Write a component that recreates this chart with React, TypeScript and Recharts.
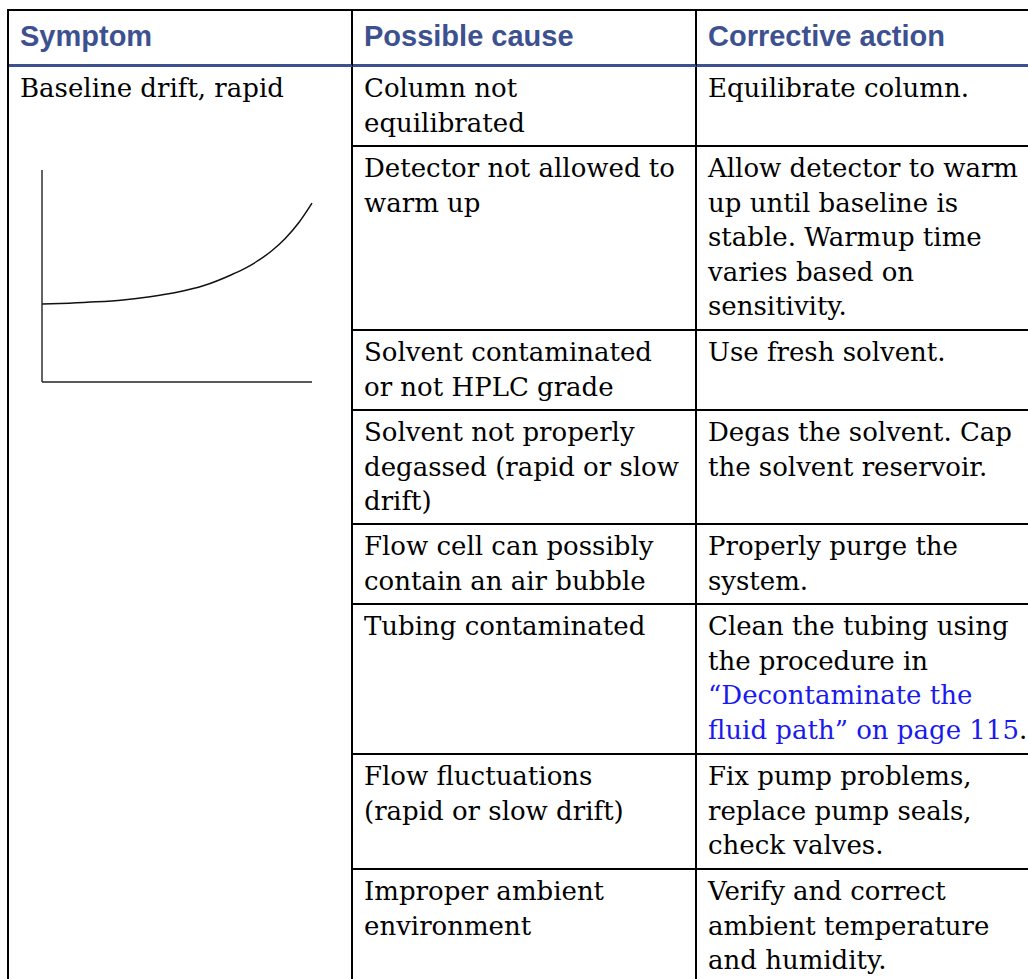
import { LineChart, Line, XAxis, YAxis } from "recharts";

// table text
const headers = ["Symptom", "Possible cause", "Corrective action"];
const symptom = "Baseline drift, rapid";

const causes: string[][] = [
  ["Column not", "equilibrated"],
  ["Detector not allowed to", "warm up"],
  ["Solvent contaminated", "or not HPLC grade"],
  ["Solvent not properly", "degassed (rapid or slow", "drift)"],
  ["Flow cell can possibly", "contain an air bubble"],
  ["Tubing contaminated"],
  ["Flow fluctuations", "(rapid or slow drift)"],
  ["Improper ambient", "environment"],
];

// [[...]] marks the cross-reference link text
const actions: string[][] = [
  ["Equilibrate column."],
  [
    "Allow detector to warm",
    "up until baseline is",
    "stable. Warmup time",
    "varies based on",
    "sensitivity.",
  ],
  ["Use fresh solvent."],
  ["Degas the solvent. Cap", "the solvent reservoir."],
  ["Properly purge the", "system."],
  [
    "Clean the tubing using",
    "the procedure in",
    "[[\u201cDecontaminate the]]",
    "[[fluid path\u201d on page 115]].",
  ],
  ["Fix pump problems,", "replace pump seals,", "check valves."],
  ["Verify and correct", "ambient temperature", "and humidity."],
];

// baseline drift sketch (arbitrary units)
const driftTime = [0, 10, 20, 30, 40, 50, 60, 70, 75, 80, 85, 90, 95, 100];
const driftSignal = [
  36.8, 37.2, 37.8, 38.7, 40.2, 42.3, 45.5, 50.5, 53.5, 57.2, 61.8, 67.6, 75.0, 84.4,
];

const rowHeights = [80, 184, 80, 114, 80, 150, 115, 115];

const HEADER_BLUE = "#3d5190";
const LINK_BLUE = "#1a1aee";

const bodyFont = "'DejaVu Serif', serif";
const headFont = "'Liberation Sans', Arial, sans-serif";

function renderLine(line: string) {
  const parts = line.split(/(\[\[.*?\]\])/);
  return parts.map((p, i) =>
    p.startsWith("[[") ? (
      <span key={i} style={{ color: LINK_BLUE }}>
        {p.slice(2, -2)}
      </span>
    ) : (
      <span key={i}>{p}</span>
    )
  );
}

function Lines({ lines }: { lines: string[] }) {
  return (
    <>
      {lines.map((l, i) => (
        <div key={i}>{renderLine(l)}</div>
      ))}
    </>
  );
}

function DriftChart() {
  const data = driftTime.map((t, i) => ({ t, v: driftSignal[i] }));
  return (
    <LineChart
      width={290}
      height={232}
      data={data}
      margin={{ top: 10, right: 10, bottom: 9, left: 9 }}
    >
      <XAxis
        type="number"
        dataKey="t"
        domain={[0, 100]}
        tick={false}
        tickLine={false}
        height={1}
        axisLine={{ stroke: "#222", strokeWidth: 1.4 }}
      />
      <YAxis
        type="number"
        domain={[0, 100]}
        tick={false}
        tickLine={false}
        width={1}
        axisLine={{ stroke: "#222", strokeWidth: 1.4 }}
      />
      <Line
        type="monotone"
        dataKey="v"
        stroke="#111"
        strokeWidth={1.5}
        dot={false}
        isAnimationActive={false}
      />
    </LineChart>
  );
}

export default function App() {
  const cell: React.CSSProperties = {
    boxSizing: "border-box",
    borderRight: "2px solid #000",
    borderBottom: "2px solid #000",
    padding: "4px 8px 0 11px",
    fontFamily: bodyFont,
    fontSize: 26,
    lineHeight: "34.5px",
    color: "#000",
    whiteSpace: "nowrap",
    overflow: "hidden",
  };
  const head: React.CSSProperties = {
    boxSizing: "border-box",
    borderRight: "2px solid #000",
    borderBottom: `3px solid ${HEADER_BLUE}`,
    padding: "8px 8px 0 11px",
    fontFamily: headFont,
    fontWeight: "bold",
    fontSize: 29,
    lineHeight: "34px",
    color: HEADER_BLUE,
    whiteSpace: "nowrap",
  };

  return (
    <div
      style={{
        position: "fixed",
        top: 0,
        left: 0,
        width: 1028,
        height: 979,
        overflow: "hidden",
        background: "#fff",
      }}
    >
      <div
        style={{
          position: "absolute",
          left: 7,
          top: 9,
          display: "grid",
          gridTemplateColumns: "344px 344px 342px",
          gridTemplateRows: [56, ...rowHeights].map((h) => `${h}px`).join(" "),
          borderLeft: "2px solid #000",
          borderTop: "2px solid #000",
        }}
      >
        {headers.map((h, i) => (
          <div key={h} style={{ ...head, gridRow: 1, gridColumn: i + 1 }}>
            {h}
          </div>
        ))}
        <div
          style={{
            ...cell,
            gridRow: `2 / ${rowHeights.length + 2}`,
            gridColumn: 1,
            position: "relative",
          }}
        >
          {symptom}
          <div style={{ position: "absolute", left: 23, top: 93 }}>
            <DriftChart />
          </div>
        </div>
        {causes.map((c, i) => (
          <div key={"c" + i} style={{ ...cell, gridRow: i + 2, gridColumn: 2 }}>
            <Lines lines={c} />
          </div>
        ))}
        {actions.map((a, i) => (
          <div
            key={"a" + i}
            style={{ ...cell, gridRow: i + 2, gridColumn: 3, overflow: "visible" }}
          >
            <Lines lines={a} />
          </div>
        ))}
      </div>
    </div>
  );
}
